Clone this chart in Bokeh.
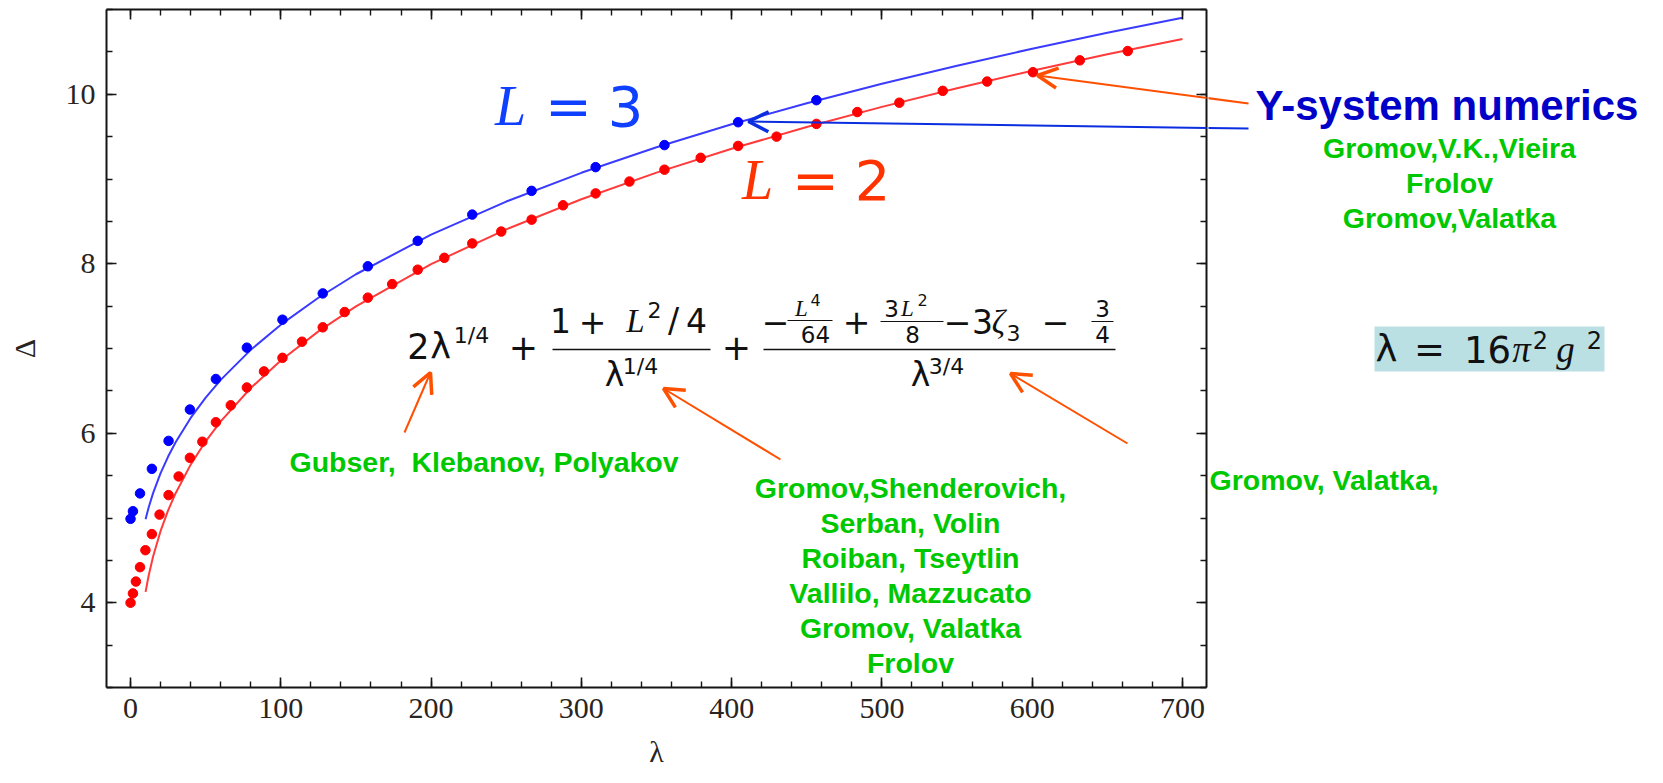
from bokeh.plotting import figure
from bokeh.layouts import row
from bokeh.models import (Label, Arrow, OpenHead, LinearAxis, SingleIntervalTicker,
                          Range1d, BoxAnnotation)
from bokeh.embed import file_html
from bokeh.resources import INLINE

# ---------------- data ----------------
# Y-system numerics, L = 3 (blue points)
lam_L3_pts = [0, 1.6, 6.3, 14.2, 25.3, 39.5, 56.8, 77.4, 101.1, 127.9, 157.9,
              191.1, 227.4, 266.9, 309.5, 355.3, 404.3, 456.4]
del_L3_pts = [4.99, 5.08, 5.29, 5.58, 5.91, 6.28, 6.64, 7.01, 7.34, 7.65, 7.97,
              8.27, 8.58, 8.86, 9.14, 9.40, 9.67, 9.93]

# Y-system numerics, L = 2 (red points)
lam_L2_pts = [0, 1.6, 3.55, 6.3, 9.9, 14.2, 19.3, 25.3, 32.0, 39.5, 47.8, 56.8,
              66.7, 77.4, 88.8, 101.1, 114.1, 127.9, 142.5, 157.9, 174.1, 191.1,
              208.8, 227.4, 246.7, 266.9, 287.8, 309.5, 332.0, 355.3, 379.4,
              404.3, 429.9, 456.4, 483.6, 511.6, 540.5, 570.0, 600.5, 631.7, 663.6]
del_L2_pts = [4.00, 4.11, 4.25, 4.42, 4.62, 4.81, 5.04, 5.27, 5.49, 5.71, 5.90, 6.13,
              6.33, 6.54, 6.73, 6.89, 7.08, 7.25, 7.43, 7.60, 7.76, 7.93,
              8.07, 8.24, 8.38, 8.52, 8.69, 8.83, 8.97, 9.11, 9.25,
              9.39, 9.50, 9.65, 9.79, 9.90, 10.04, 10.15, 10.26, 10.40, 10.51]

# strong-coupling expansion curves (solid lines)
lam_curve = [10, 12, 15, 20, 25, 30, 40, 50, 60, 80, 100, 125, 150, 200, 250,
             300, 350, 400, 450, 500, 550, 600, 650, 700]
del_L3_curve = [4.985, 5.120, 5.293, 5.529, 5.725, 5.894, 6.181, 6.421, 6.630, 6.984,
                7.281, 7.599, 7.876, 8.343, 8.734, 9.073, 9.374, 9.646, 9.894,
                10.124, 10.337, 10.537, 10.725, 10.903]
del_L2_curve = [4.129, 4.315, 4.545, 4.847, 5.089, 5.293, 5.630, 5.905, 6.141, 6.534,
                6.859, 7.202, 7.498, 7.995, 8.406, 8.761, 9.075, 9.357, 9.614,
                9.851, 10.071, 10.277, 10.471, 10.653]

X_LO, X_HI = -16, 716
Y_LO, Y_HI = 3, 11
x_major_step, x_minor_per = 100, 5
y_major_step, y_minor_per = 2, 4

# ---------------- layout geometry (page pixels) ----------------
TOTAL_W, TOTAL_H = 1655, 775
FX0, FX1, FY0, FY1 = 106, 1206, 9, 687     # plot frame edges
W1 = FX1 + 2
W2 = TOTAL_W - W1
K_BASE = 0.38   # label baseline correction (fraction of font size)

p = figure(width=W1, height=TOTAL_H, output_backend="svg", toolbar_location=None,
           x_range=Range1d(X_LO, X_HI), y_range=Range1d(Y_LO, Y_HI),
           x_axis_type=None, y_axis_type=None,
           min_border_left=FX0, min_border_right=W1 - FX1, min_border_top=FY0,
           min_border_bottom=TOTAL_H - FY1)
p.outline_line_color = None
p.background_fill_color = "white"
p.border_fill_color = "white"

LBL_COLOR = "#2a2420"
SERIF = "Liberation Serif"


def make_axis(step, nminor, labels, title=None, title_standoff=0):
    ax = LinearAxis(ticker=SingleIntervalTicker(interval=step, num_minor_ticks=nminor))
    ax.axis_line_color = "#151515"
    ax.axis_line_width = 2
    ax.major_tick_in = 10
    ax.major_tick_out = 0
    ax.minor_tick_in = 6
    ax.minor_tick_out = 0
    ax.major_tick_line_color = "#151515"
    ax.minor_tick_line_color = "#151515"
    ax.major_tick_line_width = 1.6
    ax.minor_tick_line_width = 1.4
    if labels:
        ax.major_label_text_font = SERIF
        ax.major_label_text_font_size = "30px"
        ax.major_label_text_color = LBL_COLOR
        ax.major_label_standoff = 11
    else:
        ax.major_label_text_font_size = "1px"
        ax.major_label_text_color = None
        ax.major_label_standoff = 0
    if title:
        ax.axis_label = title
        ax.axis_label_text_font = SERIF
        ax.axis_label_text_font_size = "30px"
        ax.axis_label_text_font_style = "normal"
        ax.axis_label_text_color = LBL_COLOR
        ax.axis_label_standoff = title_standoff
    return ax


p.add_layout(make_axis(x_major_step, x_minor_per, True, "λ", 14), "below")
p.add_layout(make_axis(y_major_step, y_minor_per, True, "Δ", 22), "left")
p.add_layout(make_axis(x_major_step, x_minor_per, False), "above")
p.add_layout(make_axis(y_major_step, y_minor_per, False), "right")

# curves and points
p.line(lam_curve, del_L3_curve, line_color="#3b3bff", line_width=2)
p.line(lam_curve, del_L2_curve, line_color="#ff3b3b", line_width=2)
p.scatter(lam_L3_pts, del_L3_pts, size=9.5, color="#0000ff")
p.scatter(lam_L2_pts, del_L2_pts, size=9.5, color="#ff0000")

# ---------------- right-hand panel (data units = page pixels) ----------------
# in a row, the frames are aligned with the main plot's frame (page y FY0..FY1)
p2 = figure(width=W2, height=TOTAL_H, output_backend="svg", toolbar_location=None,
            x_range=Range1d(W1, TOTAL_W), y_range=Range1d(FY1, FY0),
            x_axis_type=None, y_axis_type=None,
            min_border_left=0, min_border_right=0, min_border_top=FY0,
            min_border_bottom=TOTAL_H - FY1)
p2.outline_line_color = None
p2.background_fill_color = "white"
p2.border_fill_color = "white"
p2.grid.visible = False


def dx(X):
    return X_LO + (X - FX0) * (X_HI - X_LO) / (FX1 - FX0)


def dy(Y):
    return Y_HI - (Y - FY0) * (Y_HI - Y_LO) / (FY1 - FY0)


def T(text, X, Y, size, color="#111111", font="DejaVu Sans", style="normal",
      align="center", fig=None):
    Yc = Y - K_BASE * size
    if fig is None:
        fig, x, y = p, dx(X), dy(Yc)
    else:
        x, y = X, Yc
    fig.add_layout(Label(x=x, y=y, text=text, text_font=font,
                         text_font_size=f"{size}px", text_color=color,
                         text_font_style=style, text_align=align,
                         text_baseline="alphabetic"))


def A(x0, y0, x1, y1, color, w=2.0, head=20, hw=3.5, fig=None, tip=True):
    if fig is None:
        fig, x0, y0, x1, y1 = p, dx(x0), dy(y0), dx(x1), dy(y1)
    end = OpenHead(size=head, line_color=color, line_width=hw) if tip else None
    fig.add_layout(Arrow(x_start=x0, y_start=y0, x_end=x1, y_end=y1,
                         line_color=color, line_width=w, end=end))


def BAR(x0, x1, y, w=1.6):
    A(x0, y, x1, y, "#111111", w=w, tip=False)


# L = 3 / L = 2
BLUE_T = "#1040ff"
RED_T = "#ff3300"
T("L", 510, 127, 56, color=BLUE_T, font=SERIF, style="italic")
T("=", 568, 127, 56, color=BLUE_T)
T("3", 625, 127, 56, color=BLUE_T)
T("L", 757, 201, 56, color=RED_T, font=SERIF, style="italic")
T("=", 815, 201, 56, color=RED_T)
T("2", 872, 201, 56, color=RED_T)

# ---------------- formula ----------------
F, FF, SUP, SM, SS = 35, 33, 22, 23, 16
T("2", 418, 359, F)
T("λ", 440, 359, F)
T("1/4", 471, 343, SUP)
T("+", 523, 360, F)
# fraction 1
T("1", 560, 333, FF)
T("+", 592, 334, FF)
T("L", 635, 333, FF, font=SERIF, style="italic")
T("2", 654, 318, SUP)
T("/", 673, 333, FF)
T("4", 696, 333, FF)
BAR(552, 710, 349)
T("λ", 614, 387, FF)
T("1/4", 640, 374, SUP)
T("+", 736, 360, F)
# fraction 2
BAR(763, 1115, 349)
T("−", 775, 334, FF)
T("L", 801, 317, SM, font=SERIF, style="italic")
T("4", 815, 306, SS)
BAR(787, 832, 320, 1.2)
T("64", 815, 343, SM)
T("+", 856, 334, FF)
T("3", 891, 317, SM)
T("L", 907, 317, SM, font=SERIF, style="italic")
T("2", 922, 306, SS)
BAR(880, 943, 321, 1.2)
T("8", 912, 343, SM)
T("−", 957, 334, FF)
T("3", 982, 334, FF)
T("ζ", 998, 334, FF, font=SERIF, style="italic")
T("3", 1013, 341, SUP)
T("−", 1055, 334, FF)
T("3", 1102, 317, SM)
BAR(1091, 1113, 321, 1.2)
T("4", 1102, 343, SM)
T("λ", 920, 387, FF)
T("3/4", 946, 374, SUP)

# ---------------- annotations ----------------
GREEN = "#00c800"
SANS = "Liberation Sans"
GS = 28.5
T("Gubser,\u00a0 Klebanov, Polyakov", 289, 472, GS, color=GREEN, font=SANS, style="bold",
  align="left")
for txt, yb in [("Gromov,Shenderovich,", 498), ("Serban, Volin", 533),
                ("Roiban, Tseytlin", 568), ("Vallilo, Mazzucato", 603),
                ("Gromov, Valatka", 638), ("Frolov", 673)]:
    T(txt, 910, yb, GS, color=GREEN, font=SANS, style="bold")

ORANGE = "#ff5000"
BLUE_A = "#0a2ee0"
A(404, 432, 430, 372, ORANGE)
A(780, 459, 663, 388, ORANGE)
A(1127, 443, 1010, 373, ORANGE)
A(1248, 103, 1037, 75, ORANGE)
A(1248, 128, 748, 121, BLUE_A)

# right panel contents
A(1248, 103, 1037, 75, ORANGE, fig=p2, tip=False)
A(1248, 128, 748, 121, BLUE_A, fig=p2, tip=False)
T("Y-system numerics", 1255, 121, 42, color="#0000c8", font=SANS, style="bold",
  align="left", fig=p2)
for txt, yb in [("Gromov,V.K.,Vieira", 158), ("Frolov", 193), ("Gromov,Valatka", 228)]:
    T(txt, 1449, yb, GS, color=GREEN, font=SANS, style="bold", fig=p2)
T("Gromov, Valatka,", 1209, 490, GS, color=GREEN, font=SANS, style="bold",
  align="left", fig=p2)

p2.add_layout(BoxAnnotation(left=1374, right=1604, top=326, bottom=371,
                            fill_color="#bbe0e3", fill_alpha=1.0, line_color=None))
T("λ", 1386, 363, 37, fig=p2)
T("=", 1429, 363, 37, fig=p2)
T("16", 1487, 363, 37, fig=p2)
T("π", 1521, 363, 37, font=SERIF, style="italic", fig=p2)
T("2", 1540, 349, 24, fig=p2)
T("g", 1565, 363, 37, font=SERIF, style="italic", fig=p2)
T("2", 1594, 349, 24, fig=p2)

layout = row(p, p2)
open("out.html", "w").write(file_html(layout, INLINE))
